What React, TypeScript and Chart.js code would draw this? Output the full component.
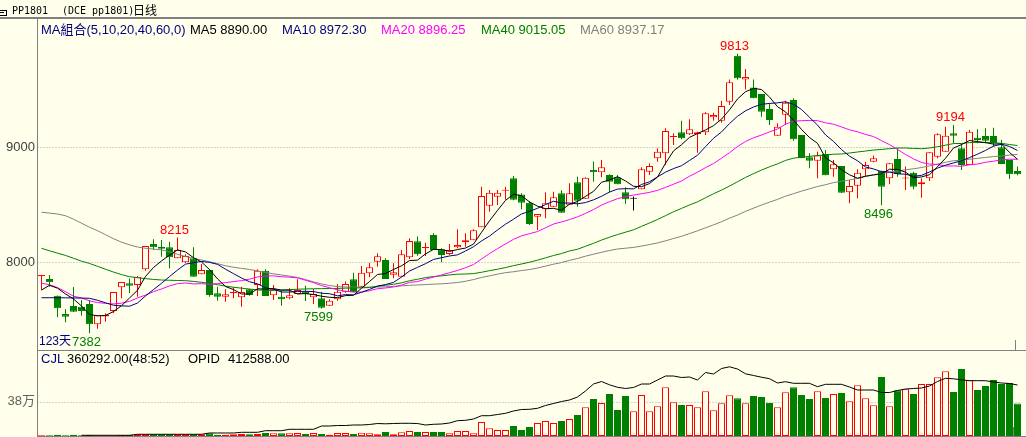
import React, { useEffect, useRef } from 'react';
import { Chart, registerables } from 'chart.js';

Chart.register(...registerables);

// ---------------- data ----------------
const opens = [
  7881, 7855, 7710, 7550, 7620, 7614, 7637, 7461, 7528, 7577,
  7783, 7817, 7803, 7939, 8159, 8136, 8130, 8035, 8000, 8035,
  7896, 7933, 7730, 7701, 7731, 7696, 7765, 7803, 7927, 7713,
  7701, 7687, 7724, 7745, 7696, 7687, 7623, 7678, 7745, 7852,
  7788, 7904, 8005, 8020, 7892, 7875, 8043, 8183, 8125, 8237,
  8113, 8072, 8130, 8174, 8192, 8304, 8492, 8570, 8623, 8730,
  8589, 8517, 8397, 8461, 8483, 8600, 8500, 8696, 8552, 8803,
  8783, 8759, 8739, 8609, 8552, 8635, 8788, 8904, 8948, 9090,
  9130, 9113, 9113, 9130, 9261, 9231, 9397, 9797, 9589, 9519,
  9463, 9333, 9101, 9284, 9411, 9107, 8913, 8884, 8942, 8809,
  8837, 8609, 8666, 8809, 8875, 8797, 8730, 8898, 8728, 8779,
  8678, 8730, 8918, 8962, 9122, 8991, 8846, 9083, 9098, 9098,
  9000, 8890, 8794,
];
const highs = [
  7885, 7890, 7712, 7592, 7785, 7672, 7672, 7539, 7558, 7742,
  7829, 7859, 7880, 8142, 8200, 8194, 8179, 8215, 8070, 8130,
  7985, 7935, 7788, 7765, 7783, 7788, 7770, 7939, 7939, 7803,
  7759, 7774, 7852, 7797, 7768, 7745, 7678, 7812, 7832, 7910,
  7968, 7997, 8078, 8035, 7991, 8107, 8209, 8224, 8170, 8252,
  8122, 8159, 8287, 8252, 8287, 8658, 8629, 8629, 8658, 8750,
  8600, 8531, 8420, 8609, 8613, 8627, 8687, 8744, 8740, 8877,
  8890, 8765, 8759, 8652, 8572, 8826, 8861, 8991, 9165, 9122,
  9231, 9243, 9135, 9304, 9301, 9405, 9590, 9813, 9681, 9589,
  9463, 9383, 9209, 9405, 9426, 9107, 8948, 8962, 8977, 8890,
  8837, 8716, 8809, 8875, 8928, 8797, 8861, 8991, 8832, 8788,
  8730, 8957, 9122, 9179, 9194, 9035, 9150, 9157, 9165, 9171,
  9063, 8890, 8832,
];
const lows = [
  7759, 7788, 7522, 7478, 7568, 7536, 7382, 7423, 7484, 7559,
  7687, 7733, 7701, 7927, 8107, 8049, 7948, 8035, 7995, 7875,
  7896, 7701, 7666, 7658, 7687, 7614, 7710, 7707, 7707, 7672,
  7623, 7678, 7724, 7663, 7637, 7599, 7623, 7666, 7736, 7739,
  7788, 7870, 7962, 7855, 7861, 7875, 8029, 8057, 8055, 8107,
  8000, 8063, 8122, 8136, 8192, 8304, 8440, 8498, 8545, 8540,
  8462, 8324, 8281, 8383, 8483, 8431, 8500, 8483, 8552, 8701,
  8739, 8609, 8678, 8509, 8450, 8635, 8759, 8875, 8846, 9020,
  9070, 9107, 8953, 9107, 9231, 9214, 9368, 9587, 9502, 9426,
  9266, 9194, 9101, 9194, 9058, 8904, 8817, 8730, 8757, 8745,
  8605, 8513, 8557, 8751, 8870, 8496, 8678, 8745, 8629, 8636,
  8562, 8707, 8904, 8962, 9035, 8803, 8846, 9035, 9035, 9005,
  8855, 8725, 8757,
];
const closes = [
  7883, 7826, 7600, 7527, 7570, 7577, 7461, 7539, 7541, 7742,
  7829, 7797, 7875, 8142, 8130, 8118, 8043, 8107, 8055, 7875,
  7933, 7716, 7701, 7722, 7742, 7742, 7716, 7927, 7707, 7765,
  7678, 7713, 7759, 7724, 7724, 7605, 7666, 7745, 7812, 7739,
  7910, 7957, 8052, 7855, 7913, 8070, 8185, 8070, 8128, 8107,
  8063, 8107, 8150, 8192, 8279, 8577, 8605, 8605, 8626, 8545,
  8517, 8333, 8420, 8513, 8565, 8431, 8600, 8535, 8735, 8783,
  8826, 8701, 8678, 8548, 8552, 8809, 8837, 8962, 9142, 9093,
  9078, 9157, 9130, 9296, 9281, 9359, 9565, 9600, 9612, 9426,
  9310, 9237, 9179, 9388, 9070, 8904, 8884, 8928, 8757, 8852,
  8605, 8663, 8779, 8846, 8904, 8657, 8861, 8768, 8731, 8657,
  8696, 8957, 9113, 9101, 9101, 8846, 9136, 9063, 9058, 9035,
  8855, 8765, 8765,
];
const volumes = [
  8900, 8900, 13300, 8900, 13300, 8900, 11100, 8900, 8900, 8900,
  11100, 11100, 18800, 18800, 18800, 18800, 18800, 18800, 18800, 18800,
  18800, 29900, 14400, 14400, 18800, 22200, 18800, 22200, 33200, 29900,
  29900, 29900, 33200, 22200, 33200, 22200, 14400, 33200, 33200, 22200,
  36600, 29900, 18800, 44300, 18800, 41000, 55400, 44300, 44300, 44300,
  44300, 29900, 55400, 55400, 29900, 155100, 85300, 66500, 66500, 110800,
  66500, 99700, 144000, 166200, 144000, 166200, 188300, 232700, 318000, 409900,
  365600, 465300, 288100, 443200, 273700, 454200, 273700, 329000, 539500, 373400,
  343400, 343400, 318000, 495200, 284700, 362300, 450900, 417700, 362300, 443200,
  432100, 365600, 318000, 484200, 539500, 454200, 409900, 495200, 421000, 465300,
  476400, 384400, 561700, 417700, 340100, 653700, 329000, 506300, 517400, 465300,
  576100, 576100, 650300, 716800, 487500, 742300, 617100, 509600, 554000, 620400,
  576100, 587200, 360292,
];
const openInterest = [
  null, null, null, null, null, 5700, 5700, 5700, 5700, 5700,
  5700, 5700, 13800, 13800, 13800, 13800, 13800, 13800, 13800, 13800,
  13800, 24300, 24300, 24300, 24300, 29900, 29900, 29900, 42900, 42900,
  42900, 54200, 54200, 54200, 54200, 80900, 80900, 84900, 84900, 89000,
  89000, 93000, 101100, 98700, 101100, 102700, 102700, 101100, 89000, 94700,
  97100, 105200, 123800, 127000, 137500, 164200, 164200, 173900, 183600, 202300,
  214400, 216000, 224100, 246700, 262900, 279100, 291200, 315500, 364100, 420700,
  440900, 414200, 394000, 384300, 392400, 420700, 420700, 453000, 485400, 485400,
  473300, 477300, 453000, 513700, 501600, 546100, 559800, 542000, 503200, 489400,
  475700, 463600, 428800, 439300, 426300, 426300, 426300, 398800, 418300, 418300,
  418300, 396400, 372100, 372100, 372100, 351900, 351900, 368100, 380200, 384300,
  388300, 404500, 440900, 466800, 462700, 454700, 447400, 447400, 447400, 436900,
  428800, 424700, 412588,
];
// moving-average values visible before enough candles exist in the window
const ma5Head = [7759, 7800, 7775, 7725];
const ma10Head = [7692, 7692, 7692, 7691, 7690, 7689, 7687, 7670, 7648];
const ma20Head = [
  7818, 7805, 7780, 7745, 7705, 7690, 7665, 7650, 7643, 7638,
  7645, 7660, 7690, 7715, 7745, 7768, 7795, 7814, 7820,
];
const ma40Head = [
  8122, 8100, 8080, 8060, 8035, 8010, 7990, 7965, 7940, 7915,
  7893, 7875, 7866, 7858, 7851, 7846, 7844, 7842, 7840, 7834,
  7826, 7817, 7805, 7793, 7783, 7775, 7767, 7760, 7757, 7755,
  7758, 7762, 7766, 7768, 7770, 7771, 7772, 7773, 7775,
];
const ma60Head = [
  8435, 8428, 8420, 8405, 8375, 8340, 8305, 8275, 8240, 8205,
  8175, 8152, 8133, 8122, 8115, 8108, 8090, 8070, 8050, 8035,
  8020, 8005, 7988, 7970, 7957, 7947, 7938, 7925, 7912, 7900,
  7890, 7880, 7868, 7850, 7830, 7812, 7798, 7789, 7786, 7784,
  7783, 7784, 7785, 7787, 7790, 7795, 7800, 7803, 7806, 7810,
  7813, 7818, 7824, 7835, 7850, 7868, 7882, 7897, 7910,
];
const maPeriods = [5, 10, 20, 40, 60];
const maLegendValues = ['8890.00', '8972.30', '8896.25', '9015.05', '8937.17'];
const priceTicks = [8000, 9000];
const volumeTicks = [380000];
const volumeTickLabels = ['38万'];
const highMarks = [17, 87, 114];
const lowMarks = [6, 35, 105];
const volumeRatioText = '(48:52)';

// ---------------- styles ----------------
const BG = '#FFFFEC';
const RED = '#FF0000';
const GREEN = '#008000';
const NAVY = '#000080';
const GRAY = '#808080';
const MA_COLORS = ['#000000', NAVY, '#FF00FF', GREEN, GRAY];
const FONT_FAMILY = '"Liberation Sans", "Noto Sans CJK SC", sans-serif';
const FONT = '13px ' + FONT_FAMILY;
const W = 1026;
const PRICE_H = 350;
const VOL_TOP = 350;
const VOL_H = 87;
const PLOT_LEFT = 37.5;
const PLOT_RIGHT_PAD = 4.5;

const maHeads = [ma5Head, ma10Head, ma20Head, ma40Head, ma60Head];

function movingAverage(period: number, head: number[]) {
  return closes.map((_, i) => {
    if (i < period - 1) return head[i];
    let s = 0;
    for (let k = i - period + 1; k <= i; k++) s += closes[k];
    return s / period;
  });
}

const labels = closes.map((_, i) => String(i + 1));
const candleColor = closes.map((c, i) => (c > opens[i] ? RED : c < opens[i] ? GREEN : '#000000'));
const bodyFill = closes.map((c, i) => (c > opens[i] ? BG : candleColor[i]));
const volStroke = closes.map((c, i) => (c >= opens[i] ? RED : GREEN));
const volFill = closes.map((c, i) => (c >= opens[i] ? BG : GREEN));

function dotted(ctx: CanvasRenderingContext2D, area: any, py: number) {
  const y = Math.round(py) + 0.5;
  ctx.beginPath();
  ctx.moveTo(area.left, y);
  ctx.lineTo(area.right, y);
  ctx.stroke();
}

const priceOverlay = {
  id: 'priceOverlay',
  beforeDatasetsDraw(chart: any) {
    const { ctx, chartArea, scales } = chart;
    ctx.save();
    ctx.strokeStyle = '#A8A8A8';
    ctx.lineWidth = 1;
    ctx.setLineDash([1, 2]);
    for (const v of priceTicks) dotted(ctx, chartArea, scales.y.getPixelForValue(v));
    ctx.setLineDash([]);
    ctx.font = FONT;
    ctx.fillStyle = '#404040';
    ctx.textAlign = 'right';
    ctx.textBaseline = 'middle';
    for (const v of priceTicks) ctx.fillText(String(v), 35, scales.y.getPixelForValue(v));
    ctx.restore();
  },
  afterDatasetsDraw(chart: any) {
    const { ctx, chartArea, scales } = chart;
    const xs = scales.x;
    const ys = scales.y;
    ctx.save();
    ctx.font = FONT;
    ctx.textAlign = 'center';
    ctx.textBaseline = 'alphabetic';
    ctx.fillStyle = RED;
    for (const i of highMarks) ctx.fillText(String(highs[i]), xs.getPixelForValue(i) - 3, ys.getPixelForValue(highs[i]) - 4);
    ctx.fillStyle = GREEN;
    for (const i of lowMarks) ctx.fillText(String(lows[i]), xs.getPixelForValue(i) - 3, ys.getPixelForValue(lows[i]) + 12.5);
    ctx.textAlign = 'left';
    ctx.fillStyle = NAVY;
    ctx.font = '12px ' + FONT_FAMILY;
    ctx.fillText(closes.length + '天', chartArea.left + 1.5, 345);
    ctx.restore();
  },
};

const volumeOverlay = {
  id: 'volumeOverlay',
  beforeDatasetsDraw(chart: any) {
    const { ctx, chartArea, scales } = chart;
    ctx.save();
    ctx.strokeStyle = '#A8A8A8';
    ctx.lineWidth = 1;
    ctx.setLineDash([1, 2]);
    for (const v of volumeTicks) dotted(ctx, chartArea, scales.y.getPixelForValue(v));
    ctx.setLineDash([]);
    ctx.font = FONT;
    ctx.fillStyle = '#606060';
    ctx.textAlign = 'right';
    ctx.textBaseline = 'middle';
    volumeTicks.forEach((v, k) => ctx.fillText(volumeTickLabels[k], 35, scales.y.getPixelForValue(v)));
    ctx.restore();
  },
};

function priceConfig(): any {
  const lineSets = maPeriods.map((p, k) => ({
    type: 'line',
    label: 'MA' + p,
    data: movingAverage(p, maHeads[k]),
    borderColor: MA_COLORS[k],
    borderWidth: 1,
    pointRadius: 0,
    tension: 0,
    fill: false,
    order: 0,
  }));
  return {
    type: 'bar',
    data: {
      labels,
      datasets: [
        ...lineSets,
        {
          type: 'bar',
          label: 'body',
          data: opens.map((o, i) => [o, closes[i]]),
          backgroundColor: bodyFill,
          borderColor: candleColor,
          borderWidth: 1,
          borderSkipped: false,
          barThickness: 7,
          minBarLength: 1,
          inflateAmount: 0,
          grouped: false,
          order: 1,
        },
        {
          type: 'bar',
          label: 'wick',
          data: lows.map((l, i) => [l, highs[i]]),
          backgroundColor: candleColor,
          borderWidth: 0,
          barThickness: 1,
          inflateAmount: 0,
          grouped: false,
          order: 2,
        },
      ],
    },
    options: {
      responsive: false,
      animation: false,
      devicePixelRatio: 1,
      events: [],
      layout: { padding: { left: PLOT_LEFT, right: PLOT_RIGHT_PAD, top: 19, bottom: 0 } },
      plugins: { legend: { display: false }, tooltip: { enabled: false } },
      scales: {
        x: { type: 'category', display: false, offset: true },
        y: { type: 'linear', display: false, min: 7237.4, max: 10115.7 },
      },
    },
    plugins: [priceOverlay],
  };
}

function volumeConfig(): any {
  return {
    type: 'bar',
    data: {
      labels,
      datasets: [
        {
          type: 'line',
          label: 'OPID',
          data: openInterest,
          yAxisID: 'oi',
          borderColor: '#000000',
          borderWidth: 1,
          pointRadius: 0,
          tension: 0,
          fill: false,
          order: 0,
        },
        {
          type: 'bar',
          label: 'CJL',
          data: volumes,
          yAxisID: 'y',
          backgroundColor: volFill,
          borderColor: volStroke,
          borderWidth: 1,
          borderSkipped: false,
          barThickness: 7,
          inflateAmount: 0,
          grouped: false,
          order: 1,
        },
      ],
    },
    options: {
      responsive: false,
      animation: false,
      devicePixelRatio: 1,
      events: [],
      layout: { padding: { left: PLOT_LEFT, right: PLOT_RIGHT_PAD, top: 2, bottom: 1 } },
      plugins: { legend: { display: false }, tooltip: { enabled: false } },
      scales: {
        x: { type: 'category', display: false, offset: true },
        y: { type: 'linear', display: false, min: 0, max: 930600 },
        oi: { type: 'linear', display: false, min: 0, max: 679600, position: 'right' },
      },
    },
    plugins: [volumeOverlay],
  };
}

const txt = (left: number, top: number, color: string, font = FONT, lh = '13px'): React.CSSProperties => ({
  position: 'absolute',
  left,
  top,
  color,
  font,
  lineHeight: lh,
  whiteSpace: 'nowrap',
  zIndex: 2,
});

const line = (left: number, top: number, width: number, height: number, bg = GRAY): React.CSSProperties => ({
  position: 'absolute',
  left,
  top,
  width,
  height,
  background: bg,
  zIndex: 3,
});

export default function App() {
  const priceRef = useRef<HTMLCanvasElement>(null);
  const volRef = useRef<HTMLCanvasElement>(null);

  useEffect(() => {
    document.body.style.margin = '0';
    const pc = new Chart(priceRef.current as HTMLCanvasElement, priceConfig());
    const vc = new Chart(volRef.current as HTMLCanvasElement, volumeConfig());
    return () => {
      pc.destroy();
      vc.destroy();
    };
  }, []);

  const legendX = [190, 282, 381, 481, 580];
  const last = closes.length - 1;

  return (
    <div style={{ position: 'fixed', left: 0, top: 0, width: W, height: 437, background: BG, overflow: 'hidden' }}>
      <canvas
        ref={priceRef}
        width={W}
        height={PRICE_H}
        style={{ position: 'absolute', left: 0, top: 0, width: W, height: PRICE_H, display: 'block' }}
      />
      <canvas
        ref={volRef}
        width={W}
        height={VOL_H}
        style={{ position: 'absolute', left: 0, top: VOL_TOP, width: W, height: VOL_H, display: 'block' }}
      />

      {/* frame */}
      <div style={line(0, 17, W, 2)} />
      <div style={line(37, 18, 1, 419)} />
      <div style={line(37, 350, W - 37, 1)} />
      <div style={line(37, 436, W - 37, 1)} />
      <div style={line(1015, 340, 1, 10)} />
      <div style={line(1013, 427, 1, 9)} />

      {/* title */}
      <div style={line(0, 10, 6, 1, '#000')} />
      <div style={line(6, 10, 1, 6, '#000')} />
      <div style={line(0, 15, 6, 1, '#000')} />
      <div style={line(0, 12, 4, 1, '#000')} />
      <div style={txt(12, 6, '#000', '10px "DejaVu Sans Mono", monospace', '10px')}>PP1801</div>
      <div style={txt(62, 6, '#000', '10px "DejaVu Sans Mono", monospace', '10px')}>(DCE pp1801)</div>
      <div style={txt(133, 4, '#000', '12px "Noto Sans CJK SC", sans-serif', '12px')}>日线</div>

      {/* MA legend */}
      <div style={txt(41, 23, NAVY)}>{'MA組合(' + maPeriods.join(',') + ',0)'}</div>
      {maPeriods.map((p, k) => (
        <div key={p} style={txt(legendX[k], 23, MA_COLORS[k])}>
          {'MA' + p + ' ' + maLegendValues[k]}
        </div>
      ))}

      {/* volume legend */}
      <div style={txt(41, 352, NAVY)}>CJL</div>
      <div style={txt(67, 352, '#000')}>{volumes[last].toFixed(2) + volumeRatioText}</div>
      <div style={txt(188, 352, '#000')}>OPID</div>
      <div style={txt(228, 352, '#000')}>{(openInterest[last] as number).toFixed(2)}</div>
    </div>
  );
}
